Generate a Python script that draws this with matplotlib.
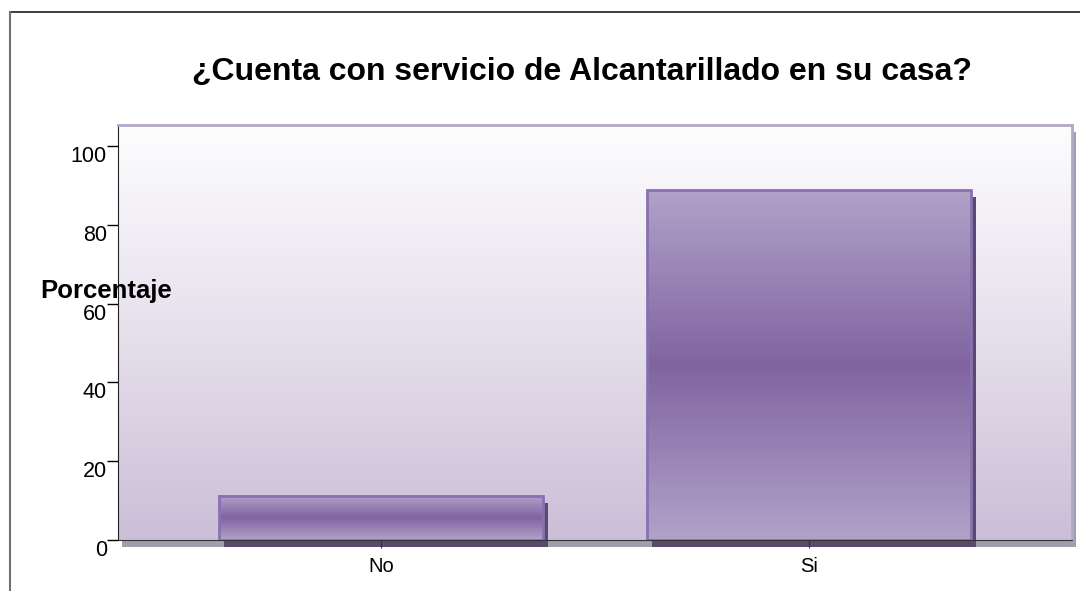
import numpy as np
import matplotlib
matplotlib.use("Agg")
import matplotlib.pyplot as plt
from matplotlib.patches import Rectangle
from matplotlib.transforms import ScaledTranslation
from matplotlib.colors import LinearSegmentedColormap
from matplotlib.lines import Line2D

# Data
categories = ["No", "Si"]
values = [11.2, 88.8]
yticks = [0, 20, 40, 60, 80, 100]
title = "¿Cuenta con servicio de Alcantarillado en su casa?"
ylabel = "Porcentaje"

plt.rcParams['font.family'] = ['Liberation Sans', 'DejaVu Sans']

fig = plt.figure(figsize=(10.8, 5.91), dpi=100)
ax = fig.add_axes([118 / 1080, 1 - 540 / 591, 954 / 1080, 415 / 591])
ax.patch.set_visible(False)

x = np.arange(len(categories))
width = 0.755
ax.set_xlim(-0.614, 1.614)
ax.set_ylim(0, 105.3)

# plot-area shadow (offset right/down)
shadow = ScaledTranslation(4 / 100, -7 / 100, fig.dpi_scale_trans)
ax.add_patch(Rectangle((0, 0), 1, 1, transform=ax.transAxes + shadow,
                       facecolor='#a29cab', edgecolor='none', zorder=-10, clip_on=False))

# background gradient, white at top to lavender at bottom
bg = LinearSegmentedColormap.from_list('bg', ['#cbbed7', '#e6e0ec', '#fdfdfe'])
grad = np.linspace(0, 1, 256).reshape(-1, 1)
ax.imshow(grad, cmap=bg, origin='lower', aspect='auto', extent=[0, 1, 0, 1],
          transform=ax.transAxes, zorder=-5, interpolation='bicubic')

# bars: light - dark - light vertical gradient
barcm = LinearSegmentedColormap.from_list('bar', ['#b1a2c9', '#8064a0', '#b1a2c9'])
bar_shadow = ScaledTranslation(5 / 100, -7 / 100, fig.dpi_scale_trans)
for xi, v in zip(x, values):
    ax.add_patch(Rectangle((xi - width / 2, 0), width, v, transform=ax.transData + bar_shadow,
                           facecolor='#5a4a6e', edgecolor='none', zorder=1, clip_on=False))
    ax.imshow(grad, cmap=barcm, origin='lower', aspect='auto',
              extent=[xi - width / 2, xi + width / 2, 0, v], zorder=2, interpolation='bicubic')
ax.bar(x, values, width=width, facecolor='none', edgecolor='#8a70b2', linewidth=2, zorder=3)

# spines
ax.spines['left'].set_color('#222222')
ax.spines['bottom'].set_color('#333333')
ax.spines['top'].set_color('#b4a7cc')
ax.spines['right'].set_color('#b4a7cc')
ax.spines['top'].set_linewidth(2)
ax.spines['right'].set_linewidth(2)

ax.set_yticks(yticks)
ax.set_yticklabels([str(t) for t in yticks], fontsize=15.5)
# labels sit just below their tick, as in the original
lab_shift = ScaledTranslation(0, 2 / 100, fig.dpi_scale_trans)
for lab in ax.get_yticklabels():
    lab.set_verticalalignment('top')
    lab.set_transform(lab.get_transform() + lab_shift)
ax.tick_params(axis='y', direction='out', length=8, width=1, pad=0)
ax.set_xticks(x)
ax.set_xticklabels(categories, fontsize=14.5)
ax.tick_params(axis='x', direction='out', length=6, width=0.8, pad=6, color='#333333')

fig.text(582 / 1080, 1 - 72 / 591, title, ha='center', va='center',
         fontsize=23, fontweight='bold')
fig.text(40 / 1080, 1 - 291 / 591, ylabel, ha='left', va='center',
         fontsize=18.5, fontweight='bold', zorder=20)

# outer frame lines
fig.add_artist(Line2D([10 / 1080, 1], [1 - 12 / 591, 1 - 12 / 591], color='#1e1e1e', lw=1.2))
fig.add_artist(Line2D([10 / 1080, 10 / 1080], [0, 1 - 12 / 591], color='#707070', lw=1.5))

fig.savefig('out.png', dpi=100)
